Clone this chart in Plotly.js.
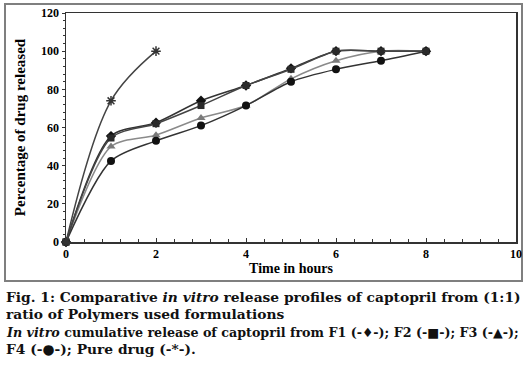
<!DOCTYPE html>
<html>
<head>
<meta charset="utf-8">
<script src="https://cdn.plot.ly/plotly-3.0.1.min.js"></script>
<style>
html,body{margin:0;padding:0;background:#fff;}
#chart{width:528px;height:376px;}
</style>
</head>
<body>
<div id="chart"></div>
<script>
// Data
const timeHours = [0, 1, 2, 3, 4, 5, 6, 7, 8];
const f1 = [0, 55.5, 62.5, 74, 82, 91, 100, 100, 100];
const f2 = [0, 54.5, 62, 71.5, 82, 90.5, 100, 100, 100];
const f3 = [0, 50, 56, 65, 71.5, 85.5, 95, 100, 100];
const f4 = [0, 42.5, 53, 61, 71.5, 84, 90.5, 95, 100];
const pureTime = [0, 1, 2];
const pureDrug = [0, 74, 100];
const xTicks = [0, 2, 4, 6, 8, 10];
const yTicks = [0, 20, 40, 60, 80, 100, 120];

const captionLines = [
  "Fig. 1: Comparative <i>in vitro</i> release profiles of captopril from (1:1)",
  "ratio of Polymers used formulations",
  "<i>In vitro</i> cumulative release of captopril from F1 (-\u2666-); F2 (-\u25A0-); F3 (-\u25B2-);",
  "F4 (-\u25CF-); Pure drug (-*-)."
];
const captionSizes = [13.8, 13.8, 12.7, 13.8];

const W = 528, H = 376;
const L = 66, R = 516, T = 13, B = 242;
const px = x => (x - L) / (R - L);
const py = y => (B - y) / (B - T);

function series(x, y, sym, size, color, lineColor, lw) {
  return {
    x: x, y: y, type: 'scatter', mode: 'lines+markers',
    line: {shape: 'spline', smoothing: 0.8, color: lineColor, width: lw},
    marker: {symbol: sym, size: size, color: color, line: {color: color, width: 0}},
    showlegend: false, hoverinfo: 'skip', cliponaxis: false
  };
}

const traces = [
  series(timeHours, f3, 'triangle-up', 8, '#7a7a7a', '#8a8a8a', 1.5),
  series(timeHours, f4, 'circle', 8, '#111', '#333', 1.5),
  series(timeHours, f1, 'diamond', 8, '#111', '#333', 1.5),
  series(timeHours, f2, 'square', 7, '#2a2a2a', '#444', 1.5),
  {
    x: pureTime, y: pureDrug, type: 'scatter', mode: 'lines+markers',
    line: {shape: 'spline', smoothing: 1, color: '#444', width: 1.5},
    marker: {symbol: 'asterisk-open', size: 8, color: '#333', line: {color: '#333', width: 1.5}},
    showlegend: false, hoverinfo: 'skip', cliponaxis: false
  }
];

const tickFont = {family: 'Liberation Serif, Times New Roman, serif', size: 12, color: '#000', weight: 'bold'};
const annotations = captionLines.map((t, i) => ({
  xref: 'paper', yref: 'paper',
  x: px(4), y: py(307 + i * 17.4),
  xanchor: 'left', yanchor: 'bottom',
  text: t, showarrow: false, align: 'left',
  font: {family: 'DejaVu Serif, serif', size: captionSizes[i], color: '#111', weight: 'bold'}
}));

const layout = {
  width: W, height: H,
  margin: {l: L, r: W - R, t: T, b: H - B},
  paper_bgcolor: '#fff', plot_bgcolor: '#fff',
  showlegend: false,
  xaxis: {
    range: [0, 10], tickvals: xTicks, ticktext: xTicks.map(String),
    showgrid: false, zeroline: false, showline: true, mirror: true,
    linecolor: '#333', linewidth: 1.5,
    ticks: 'inside', ticklen: 4, tickcolor: '#333', tickwidth: 1,
    minor: {dtick: 0.4, ticks: 'inside', ticklen: 3, tickcolor: '#333', showgrid: false},
    tickfont: tickFont,
    title: {text: '<b>Time in hours</b>', font: {family: 'Liberation Serif, serif', size: 14, color: '#000'}, standoff: 2}
  },
  yaxis: {
    range: [0, 120], tickvals: yTicks, ticktext: yTicks.map(String),
    showgrid: false, zeroline: false, showline: true, mirror: true,
    linecolor: '#333', linewidth: 1.5,
    ticks: 'outside', ticklen: 3, tickcolor: '#333', tickwidth: 1,
    minor: {dtick: 4, ticks: 'outside', ticklen: 2, tickcolor: '#333', showgrid: false},
    tickfont: tickFont,
    title: {text: '<b>Percentage of drug released</b>', font: {family: 'Liberation Serif, serif', size: 15, color: '#000'}, standoff: 12}
  },
  shapes: [{
    type: 'rect', xref: 'paper', yref: 'paper',
    x0: px(5), x1: px(522), y0: py(281), y1: py(4),
    line: {color: '#7f7f7f', width: 2}, fillcolor: 'rgba(0,0,0,0)', layer: 'below'
  }],
  annotations: annotations
};

Plotly.newPlot('chart', traces, layout, {staticPlot: true, displayModeBar: false});
</script>
</body>
</html>
